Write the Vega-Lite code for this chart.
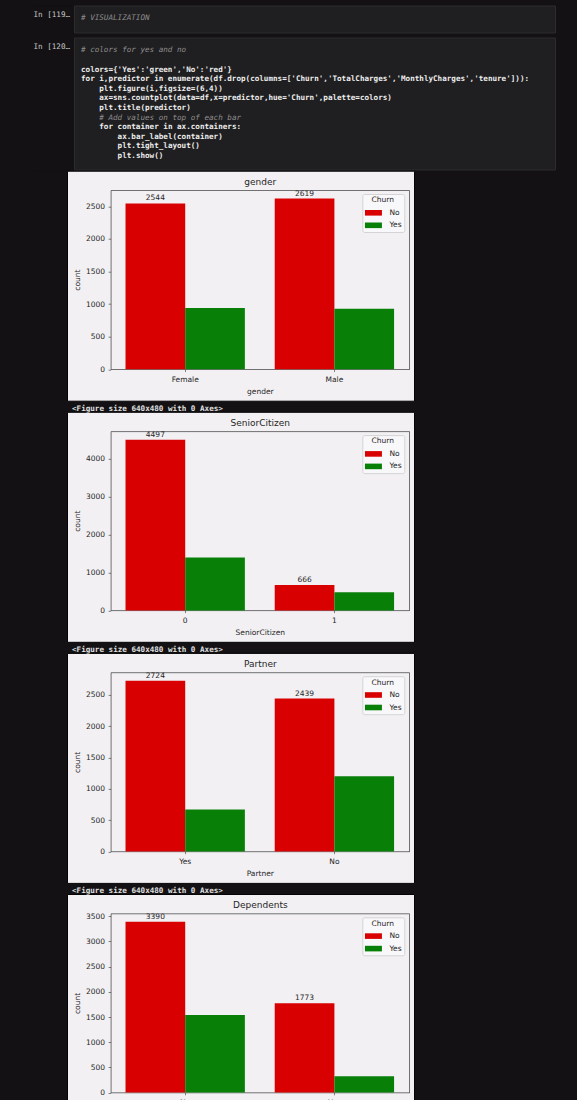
{
  "$schema": "https://vega.github.io/schema/vega-lite/v6.json",
  "background": "#131113",
  "padding": {"left": 32, "top": 4.5, "right": 23, "bottom": 0},
  "spacing": -0.8,
  "resolve": {"scale": {"color": "independent"}, "legend": {"color": "independent"}},
  "vconcat": [
    {
      "hconcat": [
        {"width": 41, "height": 1, "data": {"values": []}, "mark": "point", "view": {"fill": "#131113", "stroke": null}},
        {
          "vconcat": [
            {
              "width": 481, "height": 27,
              "view": {"fill": "#1f1e20", "stroke": "#2c2b2e"},
              "data": {"values": [{"line": 0, "indent": 0, "code": "# VISUALIZATION"}]},
              "mark": {"type": "text", "align": "left", "baseline": "middle", "font": "DejaVu Sans Mono", "fontSize": 7.6, "fontStyle": "italic", "color": "#8f8f8f"},
              "encoding": {
                "x": {"field": "indent", "type": "quantitative", "scale": {"domain": [-0.3825, 25.9016], "nice": false, "zero": false}, "axis": null},
                "y": {"field": "line", "type": "quantitative", "scale": {"domain": [-1.323, 1.49], "reverse": true, "nice": false, "zero": false},
                  "axis": {"title": "In [119…", "titleAngle": 0, "titleAlign": "left", "titleBaseline": "middle", "titleX": -41, "titleY": 9.3, "titleFont": "DejaVu Sans Mono", "titleFontSize": 7.6, "titleFontWeight": "normal", "titleColor": "#c8c8c8", "domain": false, "ticks": false, "labels": false, "grid": false}},
                "text": {"field": "code"}
              }
            },
            {
              "width": 481, "height": 132,
              "view": {"fill": "#1f1e20", "stroke": "#2c2b2e"},
              "data": {"values": [
                {"line": 0, "indent": 0, "kind": "comment", "code": "# colors for yes and no"},
                {"line": 2, "indent": 0, "kind": "code", "code": "colors={'Yes':'green','No':'red'}"},
                {"line": 3, "indent": 0, "kind": "code", "code": "for i,predictor in enumerate(df.drop(columns=['Churn','TotalCharges','MonthlyCharges','tenure'])):"},
                {"line": 4, "indent": 1, "kind": "code", "code": "plt.figure(i,figsize=(6,4))"},
                {"line": 5, "indent": 1, "kind": "code", "code": "ax=sns.countplot(data=df,x=predictor,hue='Churn',palette=colors)"},
                {"line": 6, "indent": 1, "kind": "code", "code": "plt.title(predictor)"},
                {"line": 7, "indent": 1, "kind": "comment", "code": "# Add values on top of each bar"},
                {"line": 8, "indent": 1, "kind": "code", "code": "for container in ax.containers:"},
                {"line": 9, "indent": 2, "kind": "code", "code": "ax.bar_label(container)"},
                {"line": 10, "indent": 2, "kind": "code", "code": "plt.tight_layout()"},
                {"line": 11, "indent": 2, "kind": "code", "code": "plt.show()"}
              ]},
              "encoding": {
                "x": {"field": "indent", "type": "quantitative", "scale": {"domain": [-0.3825, 25.9016], "nice": false, "zero": false}, "axis": null},
                "y": {"field": "line", "type": "quantitative", "scale": {"domain": [-1.354, 12.396], "reverse": true, "nice": false, "zero": false},
                  "axis": {"title": "In [120…", "titleAngle": 0, "titleAlign": "left", "titleBaseline": "middle", "titleX": -41, "titleY": 9, "titleFont": "DejaVu Sans Mono", "titleFontSize": 7.6, "titleFontWeight": "normal", "titleColor": "#c8c8c8", "domain": false, "ticks": false, "labels": false, "grid": false}},
                "text": {"field": "code"}
              },
              "layer": [
                {"transform": [{"filter": "datum.kind === 'comment'"}],
                 "mark": {"type": "text", "align": "left", "baseline": "middle", "font": "DejaVu Sans Mono", "fontSize": 7.6, "fontStyle": "italic", "color": "#8f8f8f"}},
                {"transform": [{"filter": "datum.kind === 'code'"}],
                 "mark": {"type": "text", "align": "left", "baseline": "middle", "font": "DejaVu Sans Mono", "fontSize": 7.6, "fontWeight": "bold", "color": "#eeeeee"}}
              ]
            }
          ],
          "spacing": 5,
          "bounds": "flush"
        }
      ],
      "spacing": 0,
      "bounds": "flush"
    },
    {
      "resolve": {"scale": {"color": "independent"}, "legend": {"color": "independent"}},
      "hconcat": [
        {"width": 33.7, "height": 1, "data": {"values": []}, "mark": "point", "view": {"fill": "#131113", "stroke": null}},
        {
          "resolve": {"scale": {"color": "independent"}, "legend": {"color": "independent"}},
          "vconcat": [
            {
              "width": 347, "height": 230,
              "view": {"fill": "#f2f0f3", "stroke": "#050505"},
              "data": {"values": [
                {"gender": "Female", "Churn": "No", "count": 2544},
                {"gender": "Female", "Churn": "Yes", "count": 939},
                {"gender": "Male", "Churn": "No", "count": 2619},
                {"gender": "Male", "Churn": "Yes", "count": 930}
              ]},
              "layer": [
                {"mark": {"type": "bar"},
                 "encoding": {
                   "x": {"field": "gender", "type": "nominal", "sort": null, "scale": {"range": [43.6, 342], "paddingInner": 0.2, "paddingOuter": 0.1},
                     "axis": {"orient": "bottom", "offset": -31.7, "title": "gender", "labelAngle": 0, "labelPadding": 3.5, "titlePadding": 4.5}},
                   "xOffset": {"field": "Churn", "type": "nominal", "scale": {"domain": ["No", "Yes"], "paddingInner": 0, "paddingOuter": 0}},
                   "y": {"field": "count", "type": "quantitative", "scale": {"domain": [0, 2750], "nice": false, "range": [198.6, 19.3]},
                     "axis": {"orient": "left", "offset": -43.6, "values": [0, 500, 1000, 1500, 2000, 2500], "format": "d", "title": "count", "labelPadding": 3.5, "titlePadding": 4}},
                   "color": {"field": "Churn", "type": "nominal", "scale": {"domain": ["No", "Yes"], "range": ["#d80000", "#088008"]},
                     "legend": {"title": "Churn", "orient": "none", "legendX": 295.3, "legendY": 23.3}}
                 }},
                {"transform": [{"filter": "datum.Churn === 'No'"}],
                 "mark": {"type": "text", "baseline": "bottom", "dy": -1, "fontSize": 7.5, "color": "#262626"},
                 "encoding": {
                   "x": {"field": "gender", "type": "nominal", "sort": null, "axis": {"orient": "top", "offset": -19.3, "title": "gender", "labels": false, "ticks": false, "titleFontSize": 9, "titlePadding": 3.5}},
                   "xOffset": {"field": "Churn", "type": "nominal"},
                   "y": {"field": "count", "type": "quantitative", "axis": {"orient": "right", "offset": -5, "title": null, "labels": false, "ticks": false}},
                   "text": {"field": "count", "type": "nominal"}
                 }}
              ],
              "resolve": {"axis": {"x": "independent", "y": "independent"}}
            },
            {
              "width": 347, "height": 230,
              "title": {"text": "<Figure size 640x480 with 0 Axes>", "anchor": "start", "frame": "group", "dx": 5, "offset": -1, "font": "DejaVu Sans Mono", "fontSize": 7.6, "fontWeight": "bold", "color": "#e0e0e0"},
              "view": {"fill": "#f2f0f3", "stroke": "#050505"},
              "data": {"values": [
                {"SeniorCitizen": "0", "Churn": "No", "count": 4497},
                {"SeniorCitizen": "0", "Churn": "Yes", "count": 1393},
                {"SeniorCitizen": "1", "Churn": "No", "count": 666},
                {"SeniorCitizen": "1", "Churn": "Yes", "count": 476}
              ]},
              "layer": [
                {"mark": {"type": "bar"},
                 "encoding": {
                   "x": {"field": "SeniorCitizen", "type": "nominal", "sort": null, "scale": {"range": [43.6, 342], "paddingInner": 0.2, "paddingOuter": 0.1},
                     "axis": {"orient": "bottom", "offset": -31.7, "title": "SeniorCitizen", "labelAngle": 0, "labelPadding": 3.5, "titlePadding": 4.5}},
                   "xOffset": {"field": "Churn", "type": "nominal", "scale": {"domain": ["No", "Yes"], "paddingInner": 0, "paddingOuter": 0}},
                   "y": {"field": "count", "type": "quantitative", "scale": {"domain": [0, 4721.85], "nice": false, "range": [198.6, 19.3]},
                     "axis": {"orient": "left", "offset": -43.6, "values": [0, 1000, 2000, 3000, 4000], "format": "d", "title": "count", "labelPadding": 3.5, "titlePadding": 4}},
                   "color": {"field": "Churn", "type": "nominal", "scale": {"domain": ["No", "Yes"], "range": ["#d80000", "#088008"]},
                     "legend": {"title": "Churn", "orient": "none", "legendX": 295.3, "legendY": 23.3}}
                 }},
                {"transform": [{"filter": "datum.Churn === 'No'"}],
                 "mark": {"type": "text", "baseline": "bottom", "dy": -1, "fontSize": 7.5, "color": "#262626"},
                 "encoding": {
                   "x": {"field": "SeniorCitizen", "type": "nominal", "sort": null, "axis": {"orient": "top", "offset": -19.3, "title": "SeniorCitizen", "labels": false, "ticks": false, "titleFontSize": 9, "titlePadding": 3.5}},
                   "xOffset": {"field": "Churn", "type": "nominal"},
                   "y": {"field": "count", "type": "quantitative", "axis": {"orient": "right", "offset": -5, "title": null, "labels": false, "ticks": false}},
                   "text": {"field": "count", "type": "nominal"}
                 }}
              ],
              "resolve": {"axis": {"x": "independent", "y": "independent"}}
            },
            {
              "width": 347, "height": 230,
              "title": {"text": "<Figure size 640x480 with 0 Axes>", "anchor": "start", "frame": "group", "dx": 5, "offset": -1, "font": "DejaVu Sans Mono", "fontSize": 7.6, "fontWeight": "bold", "color": "#e0e0e0"},
              "view": {"fill": "#f2f0f3", "stroke": "#050505"},
              "data": {"values": [
                {"Partner": "Yes", "Churn": "No", "count": 2724},
                {"Partner": "Yes", "Churn": "Yes", "count": 669},
                {"Partner": "No", "Churn": "No", "count": 2439},
                {"Partner": "No", "Churn": "Yes", "count": 1200}
              ]},
              "layer": [
                {"mark": {"type": "bar"},
                 "encoding": {
                   "x": {"field": "Partner", "type": "nominal", "sort": null, "scale": {"range": [43.6, 342], "paddingInner": 0.2, "paddingOuter": 0.1},
                     "axis": {"orient": "bottom", "offset": -31.7, "title": "Partner", "labelAngle": 0, "labelPadding": 3.5, "titlePadding": 4.5}},
                   "xOffset": {"field": "Churn", "type": "nominal", "scale": {"domain": ["No", "Yes"], "paddingInner": 0, "paddingOuter": 0}},
                   "y": {"field": "count", "type": "quantitative", "scale": {"domain": [0, 2860.2], "nice": false, "range": [198.6, 19.3]},
                     "axis": {"orient": "left", "offset": -43.6, "values": [0, 500, 1000, 1500, 2000, 2500], "format": "d", "title": "count", "labelPadding": 3.5, "titlePadding": 4}},
                   "color": {"field": "Churn", "type": "nominal", "scale": {"domain": ["No", "Yes"], "range": ["#d80000", "#088008"]},
                     "legend": {"title": "Churn", "orient": "none", "legendX": 295.3, "legendY": 23.3}}
                 }},
                {"transform": [{"filter": "datum.Churn === 'No'"}],
                 "mark": {"type": "text", "baseline": "bottom", "dy": -1, "fontSize": 7.5, "color": "#262626"},
                 "encoding": {
                   "x": {"field": "Partner", "type": "nominal", "sort": null, "axis": {"orient": "top", "offset": -19.3, "title": "Partner", "labels": false, "ticks": false, "titleFontSize": 9, "titlePadding": 3.5}},
                   "xOffset": {"field": "Churn", "type": "nominal"},
                   "y": {"field": "count", "type": "quantitative", "axis": {"orient": "right", "offset": -5, "title": null, "labels": false, "ticks": false}},
                   "text": {"field": "count", "type": "nominal"}
                 }}
              ],
              "resolve": {"axis": {"x": "independent", "y": "independent"}}
            },
            {
              "width": 347, "height": 230,
              "title": {"text": "<Figure size 640x480 with 0 Axes>", "anchor": "start", "frame": "group", "dx": 5, "offset": -1, "font": "DejaVu Sans Mono", "fontSize": 7.6, "fontWeight": "bold", "color": "#e0e0e0"},
              "view": {"fill": "#f2f0f3", "stroke": "#050505"},
              "data": {"values": [
                {"Dependents": "No", "Churn": "No", "count": 3390},
                {"Dependents": "No", "Churn": "Yes", "count": 1543},
                {"Dependents": "Yes", "Churn": "No", "count": 1773},
                {"Dependents": "Yes", "Churn": "Yes", "count": 326}
              ]},
              "layer": [
                {"mark": {"type": "bar"},
                 "encoding": {
                   "x": {"field": "Dependents", "type": "nominal", "sort": null, "scale": {"range": [43.6, 342], "paddingInner": 0.2, "paddingOuter": 0.1},
                     "axis": {"orient": "bottom", "offset": -31.7, "title": "Dependents", "labelAngle": 0, "labelPadding": 3.5, "titlePadding": 4.5}},
                   "xOffset": {"field": "Churn", "type": "nominal", "scale": {"domain": ["No", "Yes"], "paddingInner": 0, "paddingOuter": 0}},
                   "y": {"field": "count", "type": "quantitative", "scale": {"domain": [0, 3559.5], "nice": false, "range": [198.6, 19.3]},
                     "axis": {"orient": "left", "offset": -43.6, "values": [0, 500, 1000, 1500, 2000, 2500, 3000, 3500], "format": "d", "title": "count", "labelPadding": 3.5, "titlePadding": 4}},
                   "color": {"field": "Churn", "type": "nominal", "scale": {"domain": ["No", "Yes"], "range": ["#d80000", "#088008"]},
                     "legend": {"title": "Churn", "orient": "none", "legendX": 295.3, "legendY": 23.3}}
                 }},
                {"transform": [{"filter": "datum.Churn === 'No'"}],
                 "mark": {"type": "text", "baseline": "bottom", "dy": -1, "fontSize": 7.5, "color": "#262626"},
                 "encoding": {
                   "x": {"field": "Dependents", "type": "nominal", "sort": null, "axis": {"orient": "top", "offset": -19.3, "title": "Dependents", "labels": false, "ticks": false, "titleFontSize": 9, "titlePadding": 3.5}},
                   "xOffset": {"field": "Churn", "type": "nominal"},
                   "y": {"field": "count", "type": "quantitative", "axis": {"orient": "right", "offset": -5, "title": null, "labels": false, "ticks": false}},
                   "text": {"field": "count", "type": "nominal"}
                 }}
              ],
              "resolve": {"axis": {"x": "independent", "y": "independent"}}
            }
          ],
          "spacing": 11.1,
          "bounds": "flush"
        }
      ],
      "spacing": 0,
      "bounds": "flush"
    }
  ],
  "config": {
    "font": "DejaVu Sans",
    "axis": {
      "labelFont": "DejaVu Sans", "labelFontSize": 7.5, "labelColor": "#262626",
      "titleFont": "DejaVu Sans", "titleFontSize": 7.5, "titleFontWeight": "normal", "titleColor": "#262626",
      "tickColor": "#333333", "tickSize": 2.5, "tickWidth": 0.6,
      "domainColor": "#3a3a3a", "domainWidth": 0.7, "grid": false
    },
    "legend": {
      "titleFont": "DejaVu Sans", "titleFontSize": 7.5, "titleFontWeight": "normal", "titleColor": "#262626",
      "titleAnchor": "middle", "titlePadding": 4.4,
      "labelFont": "DejaVu Sans", "labelFontSize": 7.5, "labelColor": "#262626",
      "symbolType": "M-1,-0.66H3V0.66H-1Z", "symbolSize": 72, "symbolStrokeWidth": 0, "symbolOpacity": 1,
      "labelOffset": 15.8, "rowPadding": 4.5, "padding": 2.4,
      "fillColor": "#f8f7f9", "strokeColor": "#d4d4d4", "cornerRadius": 2
    }
  }
}
